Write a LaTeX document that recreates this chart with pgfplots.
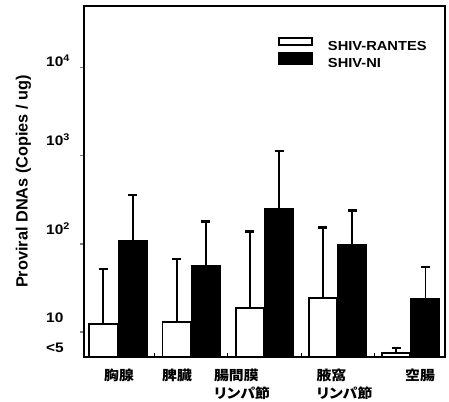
\documentclass[border=0pt]{standalone}
\usepackage{pgfplots}
\pgfplotsset{compat=1.18}
\usepackage{pgfplotstable}
\usepackage{fontspec}
\setmainfont{Liberation Sans}[FakeStretch=1.12]
\newfontfamily\ylabfont{Liberation Sans}
\newfontfamily\cjk{Noto Sans CJK JP}[FakeStretch=1.1, RawFeature=+palt]

\pgfplotstableread{
x y e
0 12.3 39.6
1 13.1 54.4
2 18.7 118.7
3 24.3 128.5
4 5.78 0.8
}\rantes
\pgfplotstableread{
x y e
0 108.6 250.4
1 56.1 122.5
2 248.9 883
3 97.2 141.2
4 23.7 31
}\ni

\begin{document}
\begin{tikzpicture}
\begin{axis}[
  name=ax,
  scale only axis, width=361pt, height=351pt,
  ymode=log, log origin=infty,
  xmin=-0.465, xmax=4.467, ymin=5.2, ymax=50000,
  axis line style={line width=2.2pt},
  ybar, bar width=0.385,
  xtick={0.014,0.806,1.694,3.094,4.126},
  xticklabels={胸腺,脾臓,{腸間膜\\リンパ節},{腋窩\\リンパ節},空腸},
  xtick style={draw=none},
  xticklabel style={font=\cjk\bfseries\fontsize{13.5}{18}\selectfont, align=left, inner sep=0pt, yshift=-8pt},
  extra x ticks={0.5,1.5,2.5,3.5},
  extra x tick labels={},
  extra x tick style={tick align=inside, xtick style={draw=black, line width=1pt}},
  ytick={10,100,1000,10000},
  yticklabels={,,,},
  yminorticks=false,
  tick align=outside, major tick length=4pt,
  ytick pos=left, xtick pos=bottom,
  ytick style={line width=1.5pt},
  extra y ticks={10330,1309,128,12.65,5.78},
  extra y tick labels={10\textsuperscript{4},10\textsuperscript{3},10\textsuperscript{2},10,<5},
  extra y tick style={ytick style={draw=none}, yticklabel style={anchor=base west, inner sep=0pt, xshift=-34pt, font=\bfseries\fontsize{13.8}{14}\selectfont}},
  ylabel={Proviral DNAs (Copies / ug)},
  ylabel style={font=\ylabfont\bfseries\fontsize{16.3}{17}\selectfont, at={(axis description cs:-0.168,0.5)}, anchor=center},
  legend style={at={(0.529,0.917)}, anchor=north west, draw=none, fill=none,
    font=\bfseries\fontsize{13.1}{13}\selectfont, row sep=1.6pt,
    nodes={inner sep=0pt, text height=8.7pt, text depth=0pt},
    /tikz/every odd column/.style={column sep=15pt}},
  legend cell align=left,
]
\addplot[fill=white, draw=black, line width=1.8pt, bar shift=-0.2,
  legend image code/.code={\draw[black, fill=white, line width=1.5pt] (0pt,1pt) rectangle (33pt,8pt);},
  error bars/.cd, y dir=plus, y explicit,
  error bar style={line width=1.9pt, black},
  error mark options={rotate=90, mark size=4.5pt, line width=2.5pt, black}]
  table[x=x, y=y, y error=e] {\rantes};
\addlegendentry{SHIV-RANTES}
\addplot[fill=black, draw=black, line width=1.8pt, bar shift=0.2,
  legend image code/.code={\fill[black] (0pt,-1pt) rectangle (33pt,10pt);},
  error bars/.cd, y dir=plus, y explicit,
  error bar style={line width=1.9pt, black},
  error mark options={rotate=90, mark size=4.5pt, line width=2.5pt, black}]
  table[x=x, y=y, y error=e] {\ni};
\addlegendentry{SHIV-NI}
\end{axis}
\pgfresetboundingbox
\path ([shift={(-84pt,-45pt)}]ax.south west) rectangle ([shift={(4pt,6pt)}]ax.north east);
\end{tikzpicture}
\end{document}
